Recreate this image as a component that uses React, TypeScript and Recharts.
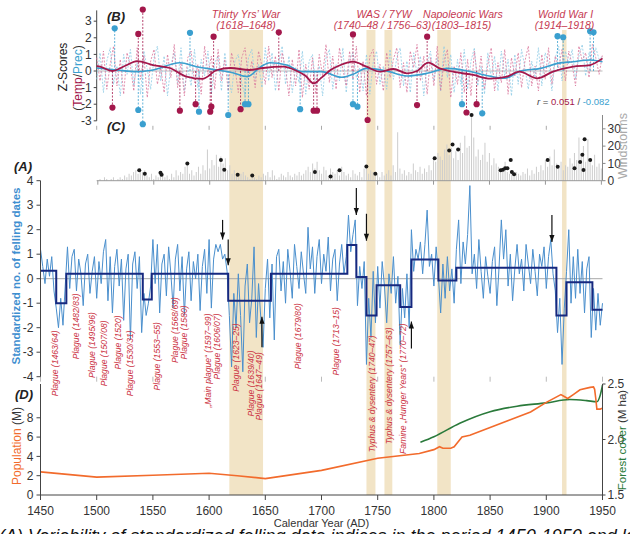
import React from 'react'
import {
  ComposedChart,
  Line,
  Bar,
  Scatter,
  XAxis,
  YAxis,
  ReferenceArea,
  ReferenceLine,
  ReferenceDot,
} from 'recharts'

const W = 630
const H = 534
const FONT = '"Liberation Sans", Arial, Helvetica, sans-serif'

// all panels share one time scale: 1450 at x=40.5, 1950 at x=602.5
const LEFT = 40.5
const RIGHT = 27.5
const LEFT_1500 = 96.7

const yearTicks = [1450, 1500, 1550, 1600, 1650, 1700, 1750, 1800, 1850, 1900, 1950]
const yearTicks1500 = yearTicks.slice(1)

// shaded war periods
const warFrom = [1618, 1740, 1756, 1803, 1914]
const warTo = [1648, 1748, 1763, 1815, 1918]

// (A) standardized felling dates, every second year from 1450
const fellingStart = 1450
const felling = [
  1.2, 0.5, -0.2, 0.8, 0.1, 0.9, -0.5, -1.2, -2.0, -0.8,
  -1.9, -0.3, 1.3, -0.4, 0.9, 1.2, -0.5, 0.8, 0.2, -1.1,
  0.6, 1.0, -0.6, 0.3, 0.9, -0.8, 0.7, -0.2, 1.1, 1.6,
  -0.9, 0.9, -1.4, 0.5, 1.2, -0.3, 0.8, -1.7, 0.4, 1.0,
  -2.5, 0.6, 1.1, -0.4, 0.9, -2.2, -0.6, -1.5, -1.0, -0.3,
  1.6, -0.2, 1.4, -1.4, 0.6, 1.0, -0.7, 1.3, 0.2, -1.2,
  0.8, 1.4, -0.5, 0.9, -1.5, 0.4, 1.1, -0.9, 0.7, 0.0,
  1.0, -1.3, 0.5, 1.2, -0.6, 1.6, -1.2, 0.8, 1.4, 1.1,
  1.4, 0.8, 1.0, 0.3, -1.5, -3.6, -0.6, -2.0, 0.2, -1.5,
  -3.8, -0.3, 0.6, -1.8, -0.8, 1.3, -2.4, -0.2, -1.6, -2.8,
  -0.4, 0.8, -1.6, 0.6, -2.5, 0.9, 1.2, -0.5, 0.7, -1.0,
  1.2, 0.3, -0.8, 1.4, 0.5, -0.4, 1.1, 0.2, -0.6, 2.1,
  0.4, 1.3, -0.6, 0.9, 1.6, -0.2, 1.0, 0.3, 1.7, -0.5,
  0.8, 1.2, -0.9, 0.6, 1.4, 0.2, 0.9, 2.6, 1.1, 1.8,
  2.4, -1.1, 0.5, -0.4, 0.7, -3.5, -0.8, -2.4, 0.3, -1.8,
  0.5, -1.2, 0.7, -0.3, -1.8, 0.2, -0.6, 0.9, -1.0, 0.1,
  -2.7, -0.4, -1.6, 0.2, -2.0, 2.0, 0.3, 1.2, 0.8, 1.5,
  0.2, 1.4, 2.8, 0.5, 1.0, -0.3, 1.3, 0.1, -1.4, 0.6,
  -0.8, 0.9, -0.5, 0.4, -1.0, 1.2, 2.4, -0.2, 1.5, 0.6,
  1.8, 3.8, 0.2, 1.0, -0.4, 1.6, 0.3, -0.8, 0.9, 0.1,
  -0.6, 0.7, 1.3, -1.1, 0.5, 2.4, 0.8, 2.0, -0.3, 1.0,
  -0.9, 0.4, 1.4, 0.2, 0.8, -0.5, 1.4, 0.6, -0.2, 1.2,
  0.3, -0.7, 1.0, 0.5, 1.3, -0.4, 0.9, 1.6, 0.2, -0.5,
  -2.2, -0.8, -3.5, -1.2, 0.3, 2.0, -1.0, 0.9, -0.8, 1.2,
  -0.6, 0.7, -1.4, 0.4, 0.9, -2.4, -0.4, -2.1, -0.6, -1.9,
  -1.0,
]

// regime means (step line), each holds until the next break year
const regimeYears = [1450, 1464, 1473, 1541, 1549, 1617, 1655, 1723, 1731, 1740, 1749, 1770, 1780, 1804, 1820, 1909, 1918, 1941, 1950]
const regimeMeans = [0.32, -1.0, 0.2, -0.85, 0.2, -0.9, 0.2, 1.38, 0.07, -1.5, -0.27, -1.16, 0.78, -0.07, 0.45, -1.5, -0.14, -1.27, -1.27]

// arrows marking notable felling years
const arrowYears = [1612, 1617, 1731, 1740, 1905, 1647, 1780]
const arrowFrom = [2.4, 1.6, 3.7, 2.65, 2.6, -2.8, -2.85]
const arrowTo = [1.6, 0.55, 2.6, 1.55, 1.5, -1.55, -1.75]

// epidemic / famine notes: text, year, top end of the note in felling units
const noteText = [
  'Plague (1463/64)', 'Plague (1482/83)', 'Plague (1495/96)', 'Plague (1507/08)', 'Plague (1520)',
  'Plague (1530/31)', 'Plague (1553–55)', 'Plague (1568/69)', 'Plague (1580)', '„Main plague“ (1597–99)',
  'Plague (1606/07)', 'Plague (1623–25)', 'Plague (1639/40)', 'Plague (1647–49)', 'Plague (1679/80)',
  'Plague (1713–15)', 'Typhus & dysentery (1740–47)', 'Typhus & dysentery (1757–63)', 'Famine „Hunger Years“ (1770–72)',
]
const noteYear = [1463, 1481.6, 1495.6, 1506.8, 1519.2, 1529.6, 1553.4, 1569.7, 1577.9, 1599.3, 1607.3, 1623.9, 1637, 1644.7, 1679.5, 1712.9, 1744.9, 1760, 1772.5]
const noteTop = [-2.11, -0.6, -1.36, -1.7, -1.5, -2.11, -1.77, -0.75, -1.09, -1.42, -1.42, -1.82, -2.93, -3.0, -1.0, -1.16, -2.31, -1.99, -1.82]

// (B) temperature / precipitation z-scores, every third year from 1500
const climateStart = 1500
const tempAnnual = [
  0.8, -0.6, 1.2, -1.1, 0.4, 1.5, -0.9, 0.7, -1.4, 1.1,
  0.3, -1.2, 1.4, -0.5, 0.9, -1.6, 0.6, 1.3, -0.8, 0.2,
  -1.3, 1.0, -0.4, 1.6, -1.0, 0.5, -1.5, 0.8, 1.2, -0.7,
  0.4, -1.4, 1.5, -0.2, 0.9, -1.1, 1.3, -0.6, 0.7, -1.2,
  1.1, 0.2, -1.3, 0.8, 1.4, -0.5, 0.6, -1.0, 1.2, 0.3,
  -0.8, 1.5, -0.4, 0.9, -1.2, 1.1, 0.2, -1.5, 0.7, -0.9,
  1.3, -1.6, 0.4, -1.1, 0.8, -1.4, 1.0, -0.3, 1.6, -0.7,
  0.9, -1.1, 1.4, 0.1, -0.9, 1.2, -0.5, 1.5, -1.3, 0.6,
  -1.5, 0.9, 1.3, -0.8, 0.4, -1.2, 1.1, -0.4, 0.7, 1.4,
  -1.0, 0.5, -1.3, 1.2, 0.2, 1.6, -0.6, 0.9, -1.4, 0.8,
  -0.9, 1.5, -1.2, 0.6, 1.3, -1.6, 0.3, -0.8, 1.1, -1.3,
  0.7, -1.5, 1.2, -0.6, 0.9, -1.1, 0.4, 1.4, -1.2, 0.5,
  -0.7, 1.3, -1.4, 0.8, -0.3, 1.1, -1.0, 0.6, 1.5, -0.9,
  0.3, -1.2, 1.0, -0.5, 1.4, -0.8, 0.9, 0.2, 1.3, -0.6,
  1.2, 0.4, -0.9, 1.5, 0.6, 1.1, -0.4, 1.6, 0.8, -0.2,
  1.0,
]
const precAnnual = [
  -0.5, 1.1, -1.3, 0.6, 1.4, -0.8, 0.3, -1.5, 1.0, -0.2,
  1.3, -0.9, 0.5, -1.4, 1.2, 0.1, -1.1, 0.8, 1.5, -0.6,
  0.9, -1.5, 0.4, 1.1, -0.7, 1.4, -1.2, 0.2, -0.9, 1.3,
  -1.0, 0.7, -0.3, 1.2, -1.4, 0.5, 0.9, -1.2, 1.1, -0.4,
  -1.3, 0.6, 1.0, -0.7, -1.5, 0.8, 1.3, -0.5, 0.4, -1.0,
  1.4, -0.6, 1.1, -1.2, 0.5, 1.5, -0.8, 0.9, -1.3, 0.2,
  -0.7, 1.2, -1.4, 0.6, 1.0, -0.9, 0.3, -1.5, 0.8, 1.3,
  -1.1, 0.4, -0.6, 1.4, -1.3, 0.7, 1.1, -0.4, 0.2, -1.2,
  1.0, -1.4, 0.5, 1.2, -0.8, 0.3, -1.1, 1.3, -0.5, 0.8,
  1.4, -0.9, 0.6, -1.3, 1.1, -0.2, 0.9, -1.5, 0.4, 1.2,
  -0.6, 0.8, -1.2, 1.5, -0.4, 1.0, -1.3, 0.7, -0.8, 1.3,
  -1.1, 0.6, 1.4, -0.9, 0.3, -1.4, 1.1, -0.5, 0.9, -1.2,
  1.2, -0.3, 0.7, -1.5, 1.0, -0.8, 1.3, 0.2, -1.1, 0.6,
  -0.4, 1.4, -0.9, 1.1, 0.5, -1.2, 0.8, 1.5, -0.6, 1.2,
  0.4, 1.3, -0.5, 0.9, 1.6, -0.3, 1.1, 0.6, 1.4, 0.7,
  0.9,
]

// smoothed curves
const tempSmoothYears = [1500, 1503, 1514, 1525, 1536, 1550, 1565, 1580, 1594, 1607, 1619, 1636, 1648, 1666, 1678, 1686, 1693, 1700, 1708, 1717, 1728, 1740, 1752, 1764, 1776, 1785, 1795, 1805, 1817, 1835, 1850, 1865, 1876, 1892, 1906, 1924, 1939, 1950]
const tempSmooth = [0.3, 0.26, 0.0, 0.3, 0.6, 0.36, 0.18, -0.34, -0.48, 0.06, 0.18, 0.06, 0.18, 0.26, 0.0, -0.3, -0.75, -0.4, 0.06, 0.36, 0.56, 0.26, -0.04, 0.12, -0.14, 0.0, 0.5, 0.16, -0.04, -0.24, -0.46, -0.34, -0.04, -0.44, -0.04, 0.26, 0.36, 0.76]
const precSmoothYears = [1500, 1518, 1535, 1550, 1574, 1589, 1607, 1621, 1634, 1646, 1654, 1669, 1683, 1700, 1718, 1728, 1740, 1758, 1776, 1794, 1812, 1830, 1845, 1863, 1877, 1895, 1910, 1924, 1939, 1950]
const precSmooth = [0.18, 0.06, -0.04, 0.06, 0.5, 0.26, 0.06, -0.1, -0.34, 0.26, 0.5, 0.36, -0.04, -0.04, -0.38, -0.2, 0.16, 0.0, -0.3, -0.14, 0.16, 0.0, -0.24, -0.44, 0.0, 0.16, 0.46, 0.56, 0.66, 0.56]

// extreme years
const tempExtremeYears = [1514, 1537, 1541, 1574, 1588, 1601, 1602, 1604, 1628, 1662, 1693, 1696, 1728, 1741, 1785, 1794, 1829, 1838]
const tempExtremes = [-2.2, 2.23, 3.7, -2.39, -2.0, -2.45, -2.15, 2.07, -2.3, 2.33, -2.39, -2.39, 2.2, -2.95, -2.05, 2.07, -2.5, -2.0]
const precExtremeYears = [1516, 1537, 1541, 1583, 1591, 1617, 1632, 1635, 1681, 1728, 1732, 1825, 1843, 1910, 1915, 1939, 1942]
const precExtremes = [2.57, -2.35, -3.2, 2.3, -2.45, -2.65, -2.0, -2.0, -2.3, -2.0, -2.15, -2.0, -2.55, 2.1, 2.03, 2.4, 2.33]

// (C) windstorms, every second year from 1500
const stormStart = 1500
const storms = [
  0, 1, 0, 2, 1, 0, 1, 2, 0, 1,
  2, 1, 3, 2, 4, 3, 5, 6, 4, 7,
  5, 6, 3, 2, 4, 1, 3, 2, 5, 4,
  2, 3, 1, 4, 2, 6, 3, 5, 4, 8,
  10, 4, 6, 3, 5, 8, 4, 9, 6, 18,
  7, 12, 9, 15, 8, 14, 10, 13, 6, 9,
  4, 6, 3, 2, 4, 5, 3, 2, 1, 3,
  2, 1, 3, 2, 4, 3, 5, 2, 6, 3,
  1, 2, 4, 3, 2, 5, 3, 2, 4, 3,
  5, 3, 4, 6, 8, 5, 10, 7, 11, 6,
  4, 8, 6, 3, 7, 5, 4, 6, 3, 8,
  5, 3, 4, 2, 6, 4, 3, 5, 2, 7,
  8, 4, 6, 5, 3, 4, 2, 5, 3, 4,
  6, 3, 9, 5, 28, 7, 4, 6, 3, 5,
  4, 10, 6, 5, 8, 4, 7, 5, 9, 6,
  13, 11, 16, 14, 12, 18, 21, 15, 19, 13,
  17, 12, 22, 16, 26, 19, 20, 38, 25, 14,
  18, 12, 15, 22, 11, 16, 9, 13, 10, 8,
  6, 7, 11, 5, 4, 6, 3, 5, 4, 3,
  5, 4, 7, 3, 6, 4, 8, 5, 9, 6,
  12, 8, 14, 9, 18, 10, 7, 11, 6, 9,
  8, 13, 10, 16, 12, 25, 14, 20, 11, 24,
  13, 9, 15, 8, 10, 7,
]
const stormEventYears = [1537, 1542, 1556, 1557, 1580, 1610, 1613, 1625, 1638, 1694, 1708, 1716, 1740, 1748, 1801, 1814, 1817, 1822, 1834, 1860, 1862, 1864, 1866, 1869, 1870, 1872, 1902, 1911, 1926, 1931, 1933, 1935, 1934, 1940]
const stormEvents = [6, 4, 4.6, 3.5, 10, 12, 6.4, 3.5, 3, 5, 2.4, 6, 8.2, 4, 13, 17.4, 21, 18, 38, 6, 6.4, 7.2, 7.2, 12, 5, 3.8, 12, 8, 7.2, 10.8, 15, 24, 6.2, 12]

// (D) population (M) and forest cover (M ha)
const popYears = [1450, 1500, 1550, 1600, 1625, 1650, 1700, 1750, 1787, 1800, 1805, 1808, 1815, 1818, 1825, 1832, 1850, 1868, 1886, 1900, 1913, 1916, 1919, 1924, 1930, 1939, 1942, 1943, 1944, 1945, 1948, 1950]
const population = [2.4, 1.85, 2.05, 2.25, 2.0, 1.7, 2.55, 3.8, 4.3, 4.7, 5.0, 4.85, 4.85, 5.0, 6.0, 6.2, 7.0, 7.8, 8.6, 9.6, 10.4, 10.2, 10.0, 10.4, 10.9, 11.15, 11.2, 10.95, 10.0, 8.9, 8.9, 9.0]
const forestYears = [1788, 1800, 1823, 1850, 1874, 1900, 1921, 1936, 1945, 1948, 1950]
const forest = [1.975, 2.025, 2.146, 2.25, 2.3, 2.33, 2.36, 2.35, 2.34, 2.4, 2.49]

// ---- rows for the chart library
const series = (start: number, step: number, vals: number[]) => vals.map((v, i) => ({ year: start + step * i, v }))
const pairs = (years: number[], vals: number[]) => years.map((year, i) => ({ year, v: vals[i] }))

const fellingRows = series(fellingStart, 2, felling)
const regimeRows = pairs(regimeYears, regimeMeans)
const tempRows = series(climateStart, 3, tempAnnual)
const precRows = series(climateStart, 3, precAnnual)
const tempSmoothRows = pairs(tempSmoothYears, tempSmooth)
const precSmoothRows = pairs(precSmoothYears, precSmooth)
const tempExtremeRows = pairs(tempExtremeYears, tempExtremes)
const precExtremeRows = pairs(precExtremeYears, precExtremes)
const stormRows = series(stormStart, 2, storms)
const stormEventRows = pairs(stormEventYears, stormEvents)
const popRows = pairs(popYears, population)
const forestRows = pairs(forestYears, forest)
// corners of the shaded frame behind all panels
const frameRows = [{ year: 1450, v: 0 }, { year: 1950, v: 1 }]

// ---- colours
const TEMP = '#a3174b'
const TEMP_THIN = '#d9769c'
const PREC = '#3a9fcf'
const PREC_THIN = '#8fcbe6'
const NOTE = '#cc3344'
const FELL = '#4a8fcd'
const REGIME = '#16287f'
const POP = '#f26b2c'
const FOREST = '#2a7a3b'
const BAND = '#f2e4c6'
const AXIS = '#444'

const tick = { fontSize: 12, fill: '#333' }
const abs: React.CSSProperties = { position: 'absolute', left: 0, top: 0 }

const dot = (r: number, fill: string) => (p: any) => <circle cx={p.cx} cy={p.cy} r={r} fill={fill} />

const arrowHead = (down: boolean) => (p: any) => (
  <polygon
    points={down
      ? `${p.cx},${p.cy} ${p.cx - 2.6},${p.cy - 7} ${p.cx + 2.6},${p.cy - 7}`
      : `${p.cx},${p.cy} ${p.cx - 2.6},${p.cy + 7} ${p.cx + 2.6},${p.cy + 7}`}
    fill="#111"
  />
)

const verticalNote = (text: string) => (p: any) => (
  <text
    x={p.cx}
    y={p.cy}
    transform={`rotate(-90 ${p.cx} ${p.cy})`}
    textAnchor="end"
    dy="0.35em"
    fontSize={8.6}
    fontStyle="italic"
    fill={NOTE}
  >
    {text}
  </text>
)

function Bands() {
  return (
    <div style={abs}>
      <ComposedChart width={W} height={H} data={frameRows} margin={{ top: 30, right: RIGHT, bottom: 39, left: LEFT }}>
        <XAxis type="number" dataKey="year" domain={[1450, 1950]} hide />
        <YAxis type="number" domain={[0, 1]} hide />
        <Line dataKey="v" stroke="none" dot={false} isAnimationActive={false} />
        {warFrom.map((from, i) => (
          <ReferenceArea key={from} x1={from} x2={warTo[i]} y1={0} y2={1} fill={BAND} fillOpacity={1} stroke="none" ifOverflow="visible" />
        ))}
      </ComposedChart>
    </div>
  )
}

function PanelB() {
  return (
    <div style={abs}>
      <ComposedChart width={W} height={H} data={tempRows} margin={{ top: 7.9, right: RIGHT, bottom: 398.2, left: LEFT_1500 - 30 }}>
        <XAxis type="number" dataKey="year" domain={[1500, 1950]} ticks={yearTicks1500} height={10}
          axisLine={false} tickLine={{ stroke: '#aaa' }} tickSize={4} tickFormatter={() => ''} />
        <YAxis type="number" domain={[-3.3, 3.8]} ticks={[-3, -2, -1, 0, 1, 2, 3]} width={30} interval={0}
          axisLine={false} tickLine={{ stroke: AXIS }} tickSize={3} tickMargin={2} tick={tick} />
        <ReferenceLine segment={[{ x: 1500, y: -3 }, { x: 1500, y: 3.65 }]} stroke={AXIS} ifOverflow="visible" />
        <ReferenceLine y={0} stroke="#bbb" strokeWidth={1} />
        <Line data={precRows} dataKey="v" stroke={PREC_THIN} strokeWidth={0.8} strokeDasharray="2 1.5" dot={false} isAnimationActive={false} />
        <Line data={tempRows} dataKey="v" stroke={TEMP_THIN} strokeWidth={0.8} strokeDasharray="2 1.5" dot={false} isAnimationActive={false} />
        {precExtremeRows.map((r) => (
          <ReferenceLine key={'p' + r.year} segment={[{ x: r.year, y: 0 }, { x: r.year, y: r.v }]} stroke={PREC} strokeWidth={0.8} strokeDasharray="2 1.5" ifOverflow="visible" />
        ))}
        {tempExtremeRows.map((r) => (
          <ReferenceLine key={'t' + r.year} segment={[{ x: r.year, y: 0 }, { x: r.year, y: r.v }]} stroke={TEMP} strokeWidth={0.8} strokeDasharray="2 1.5" ifOverflow="visible" />
        ))}
        <Line data={precSmoothRows} dataKey="v" type="monotone" stroke={PREC} strokeWidth={1.6} dot={false} isAnimationActive={false} />
        <Line data={tempSmoothRows} dataKey="v" type="monotone" stroke={TEMP} strokeWidth={1.8} dot={false} isAnimationActive={false} />
        <Scatter data={precExtremeRows} dataKey="v" shape={dot(3.1, PREC)} isAnimationActive={false} />
        <Scatter data={tempExtremeRows} dataKey="v" shape={dot(3.1, TEMP)} isAnimationActive={false} />
      </ComposedChart>
    </div>
  )
}

function PanelC() {
  return (
    <div style={abs}>
      <ComposedChart width={W} height={H} data={stormRows} margin={{ top: 115, right: 0, bottom: 345.3, left: LEFT_1500 }}>
        <XAxis type="number" dataKey="year" domain={[1499, 1951]} ticks={yearTicks1500} height={8}
          axisLine={{ stroke: '#999' }} tickLine={{ stroke: '#999' }} tickSize={4} tickFormatter={() => ''} />
        <YAxis type="number" orientation="right" domain={[0, 34]} ticks={[0, 10, 20, 30]} width={RIGHT} interval={0}
          axisLine={{ stroke: '#888' }} tickLine={{ stroke: '#888' }} tickSize={3} tickMargin={2} tick={tick} />
        <Bar dataKey="v" fill="#cdcdcd" barSize={1.3} isAnimationActive={false} />
        <Scatter data={stormEventRows} dataKey="v" shape={dot(2, '#1a1a1a')} isAnimationActive={false} />
      </ComposedChart>
    </div>
  )
}

function PanelA() {
  return (
    <div style={abs}>
      <ComposedChart width={W} height={H} data={fellingRows} margin={{ top: 180.7, right: RIGHT, bottom: 147.3, left: 0 }}>
        <XAxis type="number" dataKey="year" domain={[1450, 1950]} ticks={yearTicks} height={10}
          axisLine={false} tickLine={{ stroke: '#bbb' }} tickSize={5} tickFormatter={() => ''} />
        <YAxis type="number" domain={[-4, 4]} ticks={[-4, -3, -2, -1, 0, 1, 2, 3, 4]} width={LEFT} interval={0}
          axisLine={{ stroke: AXIS }} tickLine={{ stroke: AXIS }} tickSize={4} tickMargin={3} tick={tick} />
        <ReferenceLine y={0} stroke="#a8a8a8" strokeWidth={1} />
        <Line dataKey="v" stroke={FELL} strokeWidth={1} dot={false} isAnimationActive={false} />
        <Line data={regimeRows} dataKey="v" type="stepAfter" stroke={REGIME} strokeWidth={2} dot={false} isAnimationActive={false} />
        {arrowYears.map((y, i) => (
          <ReferenceLine key={'a' + i} segment={[{ x: y, y: arrowFrom[i] }, { x: y, y: arrowTo[i] }]} stroke="#111" strokeWidth={1.2} ifOverflow="visible" />
        ))}
        {arrowYears.map((y, i) => (
          <ReferenceDot key={'h' + i} x={y} y={arrowTo[i]} ifOverflow="visible" shape={arrowHead(arrowFrom[i] > arrowTo[i])} />
        ))}
        {noteText.map((t, i) => (
          <ReferenceDot key={t} x={noteYear[i]} y={noteTop[i]} ifOverflow="visible" shape={verticalNote(t)} />
        ))}
      </ComposedChart>
    </div>
  )
}

function PanelD() {
  return (
    <div style={abs}>
      <ComposedChart width={W} height={H} data={popRows} margin={{ top: 384, right: 0, bottom: 5, left: 0 }}>
        <XAxis type="number" dataKey="year" domain={[1450, 1950]} ticks={yearTicks} height={34} interval={0}
          axisLine={{ stroke: AXIS }} tickLine={{ stroke: AXIS }} tickSize={5} tickMargin={6} tick={tick}
          label={{ value: 'Calendar Year (AD)', position: 'insideBottom', offset: 2, fontSize: 11, fill: '#333' }} />
        <YAxis yAxisId="pop" type="number" domain={[0, 11.5]} ticks={[0, 2, 4, 6, 8]} width={LEFT} interval={0}
          axisLine={{ stroke: AXIS }} tickLine={{ stroke: AXIS }} tickSize={4} tickMargin={3} tick={tick} />
        <YAxis yAxisId="forest" orientation="right" type="number" domain={[1.5, 2.5]} ticks={[1.5, 2, 2.5]} width={RIGHT} interval={0}
          axisLine={{ stroke: AXIS }} tickLine={{ stroke: AXIS }} tickSize={3} tickMargin={2} tick={tick}
          tickFormatter={(v: number) => v.toFixed(1)} />
        <Line yAxisId="forest" data={forestRows} dataKey="v" type="monotone" stroke={FOREST} strokeWidth={1.6} dot={false} isAnimationActive={false} />
        <Line yAxisId="pop" dataKey="v" stroke={POP} strokeWidth={1.6} dot={false} isAnimationActive={false} />
      </ComposedChart>
    </div>
  )
}

function Notes() {
  const title = { fontSize: 13, fontWeight: 700, fontStyle: 'italic' as const, fill: '#222' }
  const war = { fontSize: 10.5, fontStyle: 'italic' as const, fill: '#c63a52', textAnchor: 'middle' as const }
  return (
    <svg width={W} height={H} style={{ ...abs, fontFamily: FONT, overflow: 'hidden' }}>
      <text x={107} y={20.5} {...title}>(B)</text>
      <text x={107} y={130.5} {...title}>(C)</text>
      <text x={14} y={171} {...title}>(A)</text>
      <text x={15} y={399} {...title}>(D)</text>

      <text x={246} y={18} {...war}>Thirty Yrs’ War</text>
      <text x={246} y={28.5} {...war}>(1618–1648)</text>
      <text x={384} y={18} {...war}>WAS / 7YW</text>
      <text x={382.5} y={28.5} {...war}>(1740–48 / 1756–63)</text>
      <text x={463} y={18} {...war}>Napoleonic Wars</text>
      <text x={461.5} y={28.5} {...war}>(1803–1815)</text>
      <text x={565.5} y={18} {...war}>World War I</text>
      <text x={564.5} y={28.5} {...war}>(1914–1918)</text>

      <text x={537} y={105} fontSize={9.5}>
        <tspan fill="#444" fontStyle="italic">r</tspan>
        <tspan fill="#444"> = </tspan>
        <tspan fill={TEMP}>0.051</tspan>
        <tspan fill="#444"> / </tspan>
        <tspan fill={PREC}>-0.082</tspan>
      </text>

      <text x={63} y={67} transform="rotate(-90 63 67)" textAnchor="middle" dy="0.35em" fontSize={12} fill="#222">Z-Scores</text>
      <text x={77.5} y={78} transform="rotate(-90 77.5 78)" textAnchor="middle" dy="0.35em" fontSize={12}>
        <tspan fill="#333">(</tspan>
        <tspan fill={TEMP}>Temp</tspan>
        <tspan fill="#333">/</tspan>
        <tspan fill={PREC}>Prec</tspan>
        <tspan fill="#333">)</tspan>
      </text>

      <text x={16} y={276} transform="rotate(-90 16 276)" textAnchor="middle" dy="0.35em" fontSize={11.5} fontWeight={700} fill="#3f8fd0">
        Standardized no. of felling dates
      </text>
      <text x={17} y={446} transform="rotate(-90 17 446)" textAnchor="middle" dy="0.35em" fontSize={12}>
        <tspan fill={POP}>Population</tspan>
        <tspan fill="#333"> (M)</tspan>
      </text>
      <text x={622.5} y={146} transform="rotate(-90 622.5 146)" textAnchor="middle" dy="0.35em" fontSize={12.5} fill="#aaa">Windstorms</text>
      <text x={622} y={440} transform="rotate(-90 622 440)" textAnchor="middle" dy="0.35em" fontSize={11.5}>
        <tspan fill={FOREST}>Forest cover</tspan>
        <tspan fill="#333"> (M ha)</tspan>
      </text>

      <text x={-1} y={541.5} fontSize={18} fontStyle="italic" fill="#111">
        (A) Variability of standardized felling date indices in the period 1450-1950 and late
      </text>
    </svg>
  )
}

export default function App() {
  return (
    <div style={{ ...abs, width: W, height: H, background: '#fff', fontFamily: FONT, overflow: 'hidden' }}>
      <Bands />
      <PanelB />
      <PanelC />
      <PanelA />
      <PanelD />
      <Notes />
    </div>
  )
}
